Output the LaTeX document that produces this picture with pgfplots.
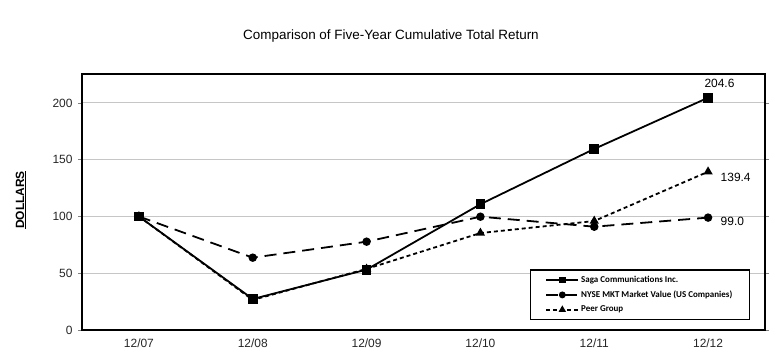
\documentclass[border=0pt]{standalone}
\usepackage{pgfplots}
\pgfplotsset{compat=1.18}
\usepackage{fontspec}
\setmainfont{Liberation Sans}
\newfontfamily\legfont{Carlito}
\begin{document}
\begin{tikzpicture}[x=1bp,y=1bp]
\path[use as bounding box] (-82bp,-31bp) rectangle (696bp,330bp);
\begin{axis}[
  at={(0,0)}, anchor=south west,
  scale only axis, width=683bp, height=256bp,
  xmin=-0.5, xmax=5.5, ymin=0, ymax=225.5,
  xtick={0,1,2,3,4,5},
  xticklabels={12/07,12/08,12/09,12/10,12/11,12/12},
  ytick={0,50,100,150,200},
  ymajorgrids, grid style={gray!45, line width=1pt},
  axis line style={black, line width=1.6pt},
  tick style={gray, line width=0.6pt},
  tick align=outside, major tick length=4bp,
  xtick style={draw=none},
  ticklabel style={font=\fontsize{12}{14}\selectfont, text=black!85},
  /pgf/number format/assume math mode=true,
  xticklabel style={yshift=-1bp},
  yticklabel style={xshift=-2bp},
  legend style={at={(0.978,0.039)}, anchor=south east, draw=black, line width=1.4pt,
    font=\legfont\fontsize{9}{11}\selectfont\bfseries, row sep=3pt,
    inner xsep=15bp, inner ysep=4pt, cells={anchor=west}},
  legend image code/.code={\draw[mark repeat=2,mark phase=2,mark size=2.5bp,#1] plot coordinates {(0bp,0bp) (16bp,0bp) (32bp,0bp)};},
  legend cell align=left,
  clip=false,
]
\addplot[black, line width=1.8pt, mark=square*, mark size=4bp, mark options={solid}]
  coordinates {(0,100) (1,27.3) (2,53.2) (3,110.8) (4,159.5) (5,204.6)};
\addlegendentry{Saga Communications Inc.}
\addplot[black, line width=1.8pt, dash pattern=on 12bp off 7bp, mark=*, mark size=3.3bp, mark options={solid}]
  coordinates {(0,100) (1,63.7) (2,77.8) (3,99.8) (4,91.0) (5,99.0)};
\addlegendentry{NYSE MKT Market Value (US Companies)}
\addplot[black, line width=1.8pt, dash pattern=on 4bp off 3bp, mark=triangle*, mark size=3.6bp, mark options={solid}]
  coordinates {(0,100) (1,26.5) (2,53.8) (3,85.4) (4,96.0) (5,139.4)};
\addlegendentry{Peer Group}
\node[font=\fontsize{12}{14}\selectfont, anchor=south] at (axis cs:5.1,210) {204.6};
\node[font=\fontsize{12}{14}\selectfont, anchor=west] at (axis cs:5.08,134.5) {139.4};
\node[font=\fontsize{12}{14}\selectfont, anchor=west] at (axis cs:5.08,95.5) {99.0};
\end{axis}
\node[font=\fontsize{13.5}{16}\selectfont] at (309bp,294bp) {Comparison of Five-Year Cumulative Total Return};
\node[rotate=90, font=\fontsize{12}{14}\selectfont\bfseries] at (-61bp,130bp) {\underline{DOLLARS}};
\end{tikzpicture}
\end{document}
